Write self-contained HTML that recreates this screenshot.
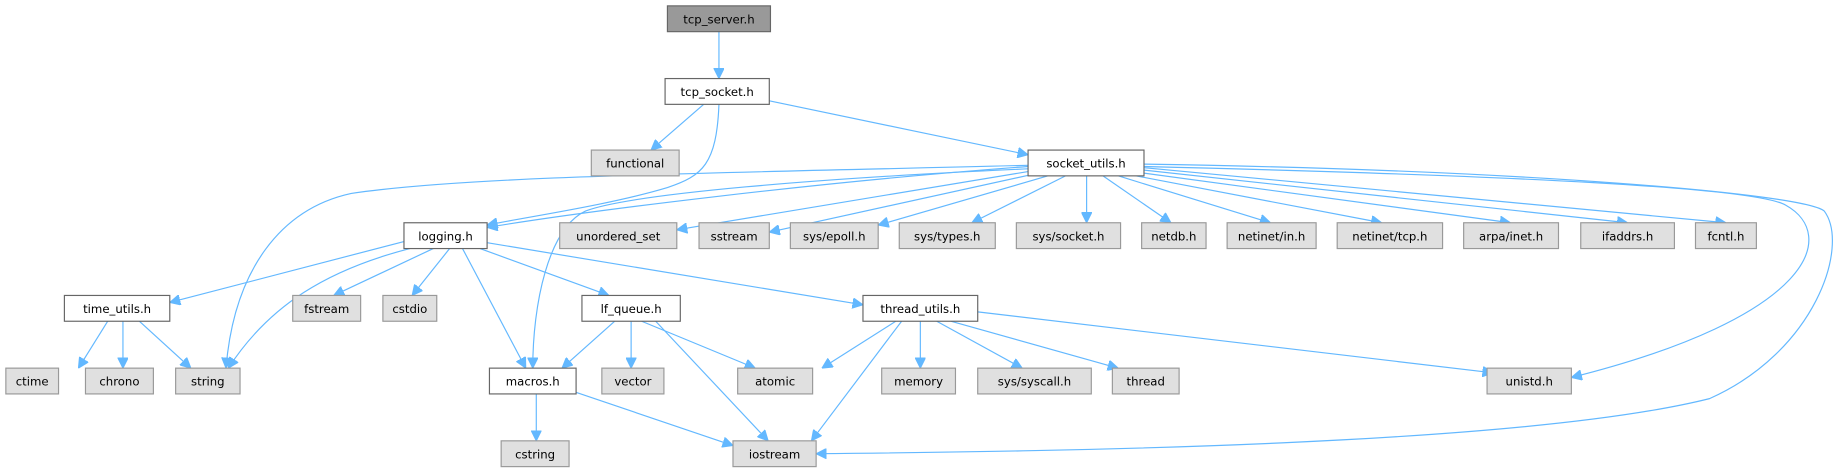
<!DOCTYPE html>
<html><head><meta charset="utf-8"><style>
html,body{margin:0;padding:0;background:#fff;}
svg{display:block;}
text{font-family:"DejaVu Sans","Liberation Sans",sans-serif;font-size:10px;fill:#000;text-anchor:middle;}
.n{fill:#fff;stroke:#666;stroke-width:1;}
.g{fill:#e0e0e0;stroke:#999;stroke-width:1;}
.r{fill:#999;stroke:#666;stroke-width:1;}
path{fill:none;stroke:#63b8ff;stroke-width:1;}
</style></head><body>
<svg width="1836" height="476" viewBox="0 0 1568 406" preserveAspectRatio="none">
<defs><marker id="a" viewBox="0 0 10 10" refX="10" refY="5" markerWidth="9" markerHeight="9" orient="auto" markerUnits="userSpaceOnUse"><path d="M0,0 L10,5 L0,10 z" style="fill:#63b8ff;stroke:#63b8ff"/></marker></defs>
<g marker-end="url(#a)">
<path d="M614,27 L614,67"/>
<path d="M601,89 L556,128"/>
<path d="M614,89 C612,140 600,150 570,160 C520,175 450,185 416,192"/>
<path d="M657,86 L878,132"/>
<path d="M878,142 C700,155 500,180 416,194"/>
<path d="M880,146 L578,196"/>
<path d="M885,148 L657,198"/>
<path d="M895,150 L750,192"/>
<path d="M910,150 L830,190"/>
<path d="M928,150 L928,190"/>
<path d="M942,150 L1000,190"/>
<path d="M955,150 L1085,190"/>
<path d="M965,149 L1180,190"/>
<path d="M972,147 L1290,190"/>
<path d="M976,145 L1390,190"/>
<path d="M977,143 L1474,190"/>
<path d="M878,141 C600,148 400,150 300,165 C240,178 200,230 193,314"/>
<path d="M878,144 C700,152 540,165 500,180 C468,195 455,260 455,314"/>
<path d="M977,142 C1300,150 1500,160 1525,175 C1570,200 1550,270 1342,322"/>
<path d="M977,140 C1300,145 1540,165 1558,180 C1580,210 1550,300 1460,340 C1300,380 900,385 697,387"/>
<path d="M345,206 L145,258"/>
<path d="M350,212 C280,230 230,260 195,314"/>
<path d="M370,212 L285,252"/>
<path d="M384,212 L352,252"/>
<path d="M395,212 L449,314"/>
<path d="M410,212 L520,252"/>
<path d="M416,207 L737,260"/>
<path d="M92,274 L67,314"/>
<path d="M105,274 L105,314"/>
<path d="M119,274 L163,314"/>
<path d="M525,274 L480,314"/>
<path d="M539,274 L539,314"/>
<path d="M548,274 L645,314"/>
<path d="M560,274 L656,376"/>
<path d="M765,274 L702,314"/>
<path d="M770,274 L693,376"/>
<path d="M786,274 L786,314"/>
<path d="M800,274 L873,314"/>
<path d="M812,274 L955,314"/>
<path d="M835,266 L1275,318"/>
<path d="M458,336 L458,376"/>
<path d="M490,334 L626,380"/>
</g>
<rect class="r" x="570" y="5" width="88" height="22"/><text x="614" y="20">tcp_server.h</text>
<rect class="n" x="568" y="67" width="89" height="22"/><text x="612.5" y="82">tcp_socket.h</text>
<rect class="g" x="505" y="128" width="75" height="22"/><text x="542.5" y="143">functional</text>
<rect class="n" x="878" y="128" width="99" height="22"/><text x="927.5" y="143">socket_utils.h</text>
<rect class="n" x="345" y="190" width="71" height="22"/><text x="380.5" y="205">logging.h</text>
<rect class="g" x="478" y="190" width="100" height="22"/><text x="528" y="205">unordered_set</text>
<rect class="g" x="597" y="190" width="60" height="22"/><text x="627" y="205">sstream</text>
<rect class="g" x="675" y="190" width="75" height="22"/><text x="712.5" y="205">sys/epoll.h</text>
<rect class="g" x="768" y="190" width="82" height="22"/><text x="809" y="205">sys/types.h</text>
<rect class="g" x="868" y="190" width="89" height="22"/><text x="912.5" y="205">sys/socket.h</text>
<rect class="g" x="975" y="190" width="55" height="22"/><text x="1002.5" y="205">netdb.h</text>
<rect class="g" x="1048" y="190" width="76" height="22"/><text x="1086" y="205">netinet/in.h</text>
<rect class="g" x="1142" y="190" width="90" height="22"/><text x="1187" y="205">netinet/tcp.h</text>
<rect class="g" x="1250" y="190" width="81" height="22"/><text x="1290.5" y="205">arpa/inet.h</text>
<rect class="g" x="1350" y="190" width="80" height="22"/><text x="1390" y="205">ifaddrs.h</text>
<rect class="g" x="1448" y="190" width="52" height="22"/><text x="1474" y="205">fcntl.h</text>
<rect class="n" x="55" y="252" width="90" height="22"/><text x="100" y="267">time_utils.h</text>
<rect class="g" x="250" y="252" width="58" height="22"/><text x="279" y="267">fstream</text>
<rect class="g" x="327" y="252" width="46" height="22"/><text x="350" y="267">cstdio</text>
<rect class="n" x="497" y="252" width="84" height="22"/><text x="539" y="267">lf_queue.h</text>
<rect class="n" x="737" y="252" width="98" height="22"/><text x="786" y="267">thread_utils.h</text>
<rect class="g" x="5" y="314" width="45" height="22"/><text x="27.5" y="329">ctime</text>
<rect class="g" x="73" y="314" width="58" height="22"/><text x="102" y="329">chrono</text>
<rect class="g" x="150" y="314" width="55" height="22"/><text x="177.5" y="329">string</text>
<rect class="n" x="418" y="314" width="74" height="22"/><text x="455" y="329">macros.h</text>
<rect class="g" x="514" y="314" width="53" height="22"/><text x="540.5" y="329">vector</text>
<rect class="g" x="630" y="314" width="64" height="22"/><text x="662" y="329">atomic</text>
<rect class="g" x="753" y="314" width="63" height="22"/><text x="784.5" y="329">memory</text>
<rect class="g" x="835" y="314" width="97" height="22"/><text x="883.5" y="329">sys/syscall.h</text>
<rect class="g" x="950" y="314" width="57" height="22"/><text x="978.5" y="329">thread</text>
<rect class="g" x="1270" y="314" width="72" height="22"/><text x="1306" y="329">unistd.h</text>
<rect class="g" x="428" y="376" width="58" height="22"/><text x="457" y="391">cstring</text>
<rect class="g" x="626" y="376" width="71" height="22"/><text x="661.5" y="391">iostream</text>
</svg>
</body></html>
